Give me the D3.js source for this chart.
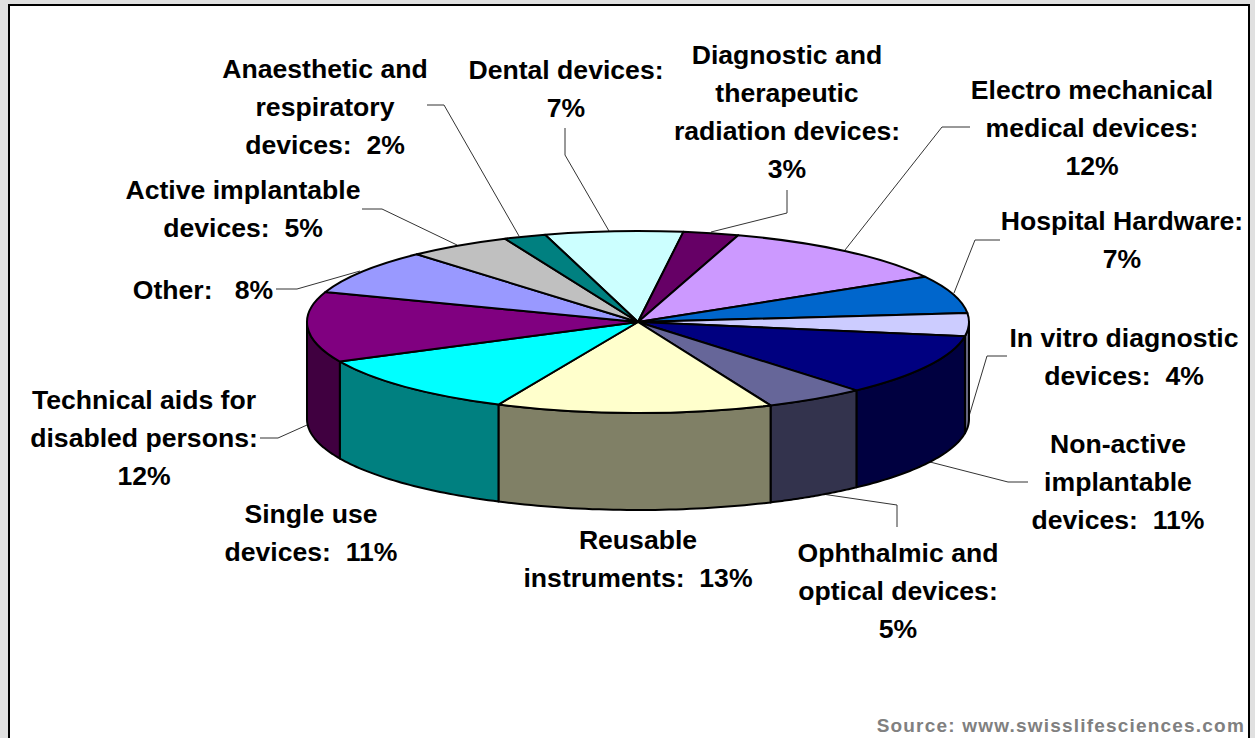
<!DOCTYPE html>
<html>
<head>
<meta charset="utf-8">
<script src="https://cdn.jsdelivr.net/npm/d3@7"></script>
<style>
html,body{margin:0;padding:0;background:#e0e0e0;overflow:hidden}
svg{display:block}
text{font-family:"Liberation Sans",Arial,sans-serif;font-weight:bold;white-space:pre}
</style>
</head>
<body>
<svg id="c" width="1255" height="738"></svg>
<script>
const categories = ["Dental devices","Diagnostic and therapeutic radiation devices","Electro mechanical medical devices","Hospital Hardware","In vitro diagnostic devices","Non-active implantable devices","Ophthalmic and optical devices","Reusable instruments","Single use devices","Technical aids for disabled persons","Other","Active implantable devices","Anaesthetic and respiratory devices"];
const shares = [6.7,2.7,11.8,6.7,4.05,11,4.9,13.45,10.9,12.45,8,5.05,2.05];
const fills = ["#CCFFFF","#660066","#CC99FF","#0066CC","#CCCCFF","#000080","#666699","#FFFFCC","#00FFFF","#800080","#9999FF","#C0C0C0","#008080"];
const labelLines = [
  ["Dental devices:","7%"],
  ["Diagnostic and","therapeutic","radiation devices:","3%"],
  ["Electro mechanical","medical devices:","12%"],
  ["Hospital Hardware:","7%"],
  ["In vitro diagnostic","devices:  4%"],
  ["Non-active","implantable","devices:  11%"],
  ["Ophthalmic and","optical devices:","5%"],
  ["Reusable","instruments:  13%"],
  ["Single use","devices:  11%"],
  ["Technical aids for","disabled persons:","12%"],
  ["Other:   8%"],
  ["Active implantable","devices:  5%"],
  ["Anaesthetic and","respiratory","devices:  2%"]
];
// layout, kept apart from the data: label centre x, first baseline y
const labelAnchors = [[566,79],[787,64],[1092,99],[1122,230],[1124,347],[1118,453],[898,562],[638,549],[311,523],[144,409],[203,299],[243,199],[325,78]];
const leaders = [
  [[609,231],[565,155],[565,128]],
  [[711,232],[787,213],[787,190]],
  [[845,250],[942,127],[970,127]],
  [[954,293],[975,240],[1000,240]],
  [[967,423],[987,356],[1007,356]],
  [[930,462],[1008,482],[1028,482]],
  [[822,494],[897,505],[897,527]],
  null,null,
  [[307,425],[278,438],[260,438]],
  [[360,271],[297,289],[276,289]],
  [[457,245],[382,209],[362,209]],
  [[519,236],[444,105],[427,105]]
];
const sourceText = "Source: www.swisslifesciences.com";

const cx=638, cy=322, rx=331, ry=91, depth=97;
const startDeg=-16.3;
const toRad=d3.scaleLinear().domain([0,360]).range([0,2*Math.PI]);
const svg=d3.select("#c");
svg.append("rect").attr("width",1255).attr("height",738).attr("fill","#e0e0e0");
svg.append("rect").attr("x",9).attr("y",5).attr("width",1240).attr("height",760).attr("fill","#fff").attr("stroke","#000").attr("stroke-width",2);

const pie=d3.pie().sort(null).startAngle(toRad(startDeg)).endAngle(toRad(startDeg+360));
const arcs=pie(shares);
const g=svg.append("g");

// leader lines
const link=d3.line();
g.selectAll("path.leader").data(leaders.filter(Boolean)).join("path")
  .attr("class","leader").attr("d",link).attr("fill","none").attr("stroke","#333").attr("stroke-width",1);

// walls on the front half of the ellipse
const ex=a=>cx+rx*Math.sin(a), ey=a=>cy-ry*Math.cos(a);
const lo=Math.PI/2, hi=3*Math.PI/2;
function wallPath(d){
  let a0=Math.max(d.startAngle,lo), a1=Math.min(d.endAngle,hi);
  if(a1<=a0) return null;
  const ts=d3.range(0,41).map(i=>a0+(a1-a0)*i/40);
  const top=ts.map(t=>[ex(t),ey(t)]);
  const bot=ts.slice().reverse().map(t=>[ex(t),ey(t)+depth]);
  return d3.line()(top.concat(bot))+"Z";
}
g.selectAll("path.wall").data(arcs.map((d,i)=>({d,i})).filter(o=>wallPath(o.d))).join("path")
  .attr("class","wall").attr("d",o=>wallPath(o.d))
  .attr("fill",o=>{const c=d3.rgb(fills[o.i]);return d3.rgb(c.r/2,c.g/2,c.b/2).formatHex();})
  .attr("stroke","#000").attr("stroke-width",2).attr("stroke-linejoin","round");

// top face
const arcGen=d3.arc().innerRadius(0).outerRadius(rx);
g.append("g").attr("transform",`translate(${cx},${cy}) scale(1,${ry/rx})`)
  .selectAll("path").data(arcs).join("path")
  .attr("d",arcGen).attr("fill",(d,i)=>fills[i])
  .attr("stroke","#000").attr("stroke-width",2).attr("stroke-linejoin","round")
  .attr("vector-effect","non-scaling-stroke");

// labels
const lh=38;
const lab=svg.append("g").attr("font-size",26.6).attr("fill","#000").attr("text-anchor","middle");
labelLines.forEach((lines,i)=>{
  lab.append("g").attr("data-category",categories[i]).selectAll("text").data(lines).join("text")
    .attr("x",labelAnchors[i][0]).attr("y",(d,k)=>labelAnchors[i][1]+k*lh)
    .attr("xml:space","preserve").text(d=>d);
});
svg.append("text").attr("x",1245).attr("y",732).attr("text-anchor","end")
  .attr("font-size",19).attr("letter-spacing",1.2).attr("fill","#808080").text(sourceText);
</script>
</body>
</html>
